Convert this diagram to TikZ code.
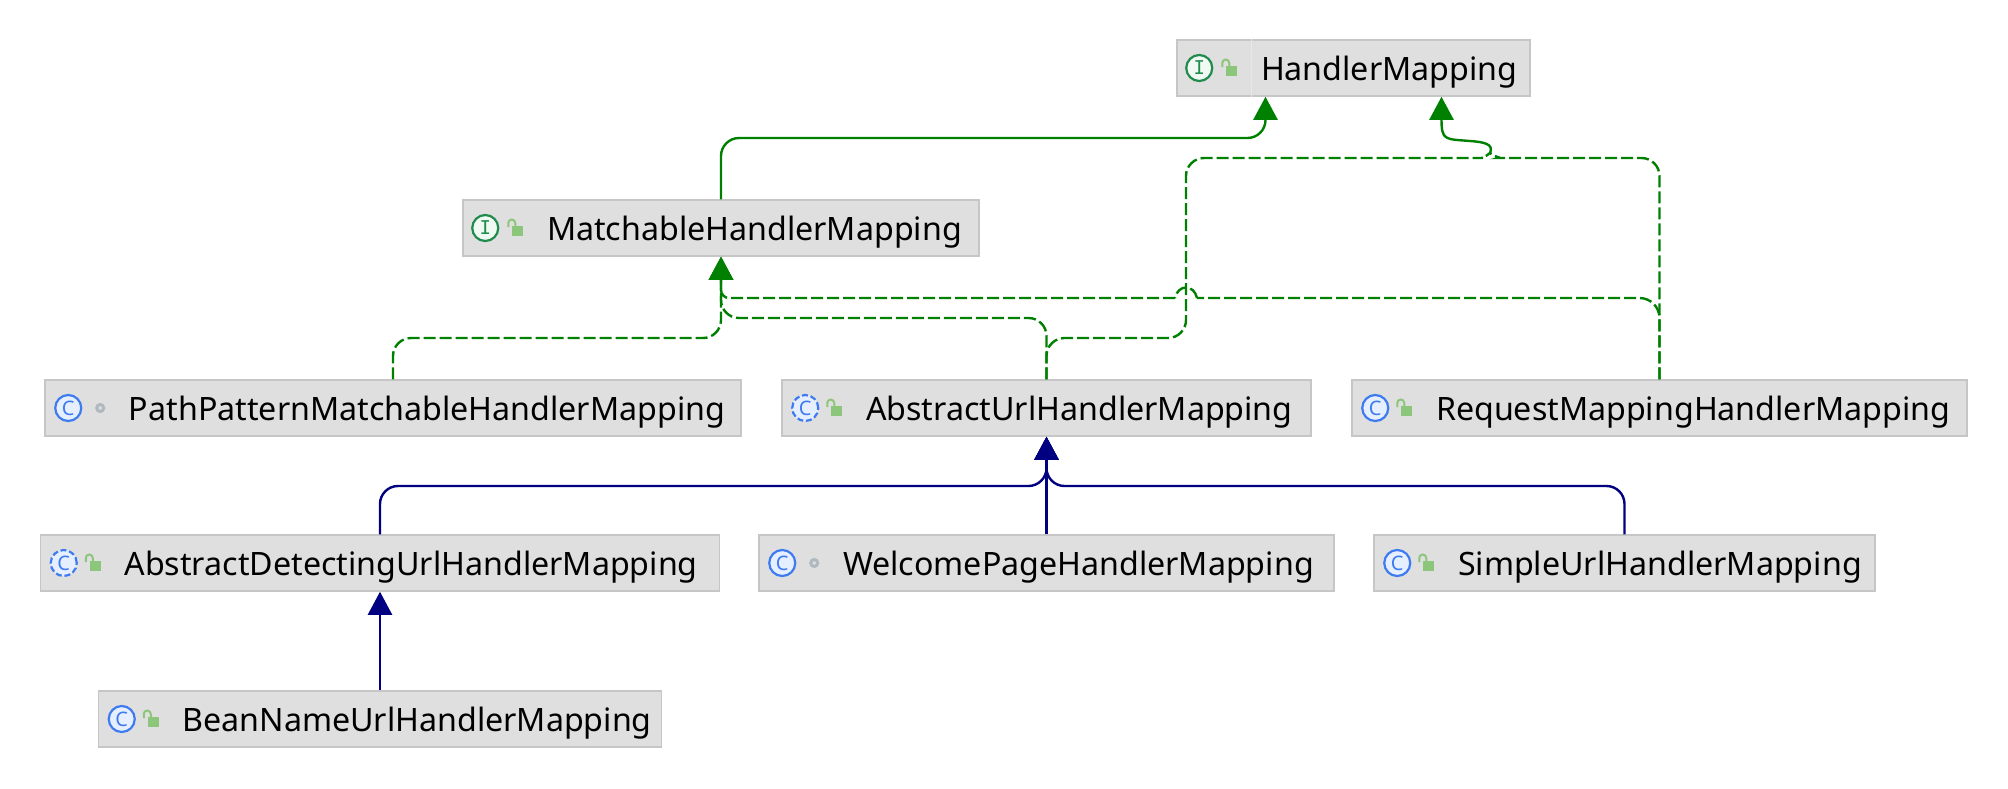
\documentclass[tikz,border=0pt]{standalone}
\usepackage{fontspec}
\setmainfont{Noto Sans}
\newfontfamily\monoicon{DejaVu Sans Mono}
\usetikzlibrary{arrows.meta}
\hyphenpenalty=10000
\definecolor{boxfill}{HTML}{DFDFDF}
\definecolor{boxline}{HTML}{C6C6C6}
\definecolor{implgreen}{HTML}{008000}
\definecolor{extblue}{HTML}{000080}
\definecolor{clsblue}{HTML}{3F7BF0}
\definecolor{clsfill}{HTML}{E6EFFF}
\definecolor{ifgreen}{HTML}{1F8B4C}
\definecolor{iffill}{HTML}{F0FAF3}
\definecolor{lockgreen}{HTML}{8CC67A}
\definecolor{dotgray}{HTML}{AEB9C0}
\tikzset{
cls/.style={draw=boxline, fill=boxfill, line width=0.75pt, minimum height=28pt, text width=#1, align=left,
  inner ysep=0pt, inner xsep=0pt, text height=12pt, text depth=0pt, font=\fontsize{16.1}{18}\selectfont,
  execute at begin node={\hspace*{42pt}}}, % box of one class
conn/.style={rounded corners=9pt, line width=1.2pt, -{Triangle[width=12pt,length=11.5pt]}},
impl/.style={conn, draw=implgreen, fill=none, -{Triangle[width=12pt,length=11.5pt,fill=implgreen]}},
dep/.style={impl, dash pattern=on 6pt off 2pt},
ext/.style={conn, draw=extblue},
cicon/.style={circle, draw=clsblue, fill=clsfill, line width=1.1pt, minimum size=13pt, inner sep=0pt, text=clsblue, font=\fontsize{10}{10}\selectfont},
aicon/.style={cicon, dash pattern=on 3pt off 1.4pt},
iicon/.style={circle, draw=ifgreen, fill=iffill, line width=1.1pt, minimum size=13pt, inner sep=0pt, text=ifgreen, font=\monoicon\fontsize{9.5}{10}\selectfont},
dotn/.style={circle, draw=dotgray, line width=1.5pt, minimum size=3.5pt, inner sep=0pt},
pics/openlock/.style={code={
  \fill[lockgreen] (5,-2) rectangle (16,8);
  \draw[lockgreen, line width=1pt] (1,-1) -- (1,-5) arc[start angle=180, end angle=0, radius=1.75pt] -- (8,-2);
}},
}
\begin{document}
\begin{tikzpicture}[x=0.5pt, y=-0.5pt]
    \useasboundingbox (0,0) rectangle (2008,788);
    % classes
    \node[cls=176.5pt] (handler) at (1353.5,68) {HandlerMapping};
    \node[cls=258pt] (match) at (721,228) {MatchableHandlerMapping};
    \node[cls=348pt] (pathpat) at (393,408) {PathPatternMatchableHandlerMapping};
    \node[cls=264.5pt] (absurl) at (1046.5,408) {AbstractUrlHandlerMapping};
    \node[cls=307.5pt] (request) at (1659.5,408) {RequestMappingHandlerMapping};
    \node[cls=339.5pt] (detect) at (380,563) {AbstractDetectingUrlHandlerMapping};
    \node[cls=287.5pt] (welcome) at (1046.5,563) {WelcomePageHandlerMapping};
    \node[cls=250.5pt] (simple) at (1624.5,563) {SimpleUrlHandlerMapping};
    \node[cls=281.5pt] (bean) at (380,719) {BeanNameUrlHandlerMapping};
    \draw[white!25!boxfill, line width=0.75pt] ([xshift=37.5pt]handler.north west) -- ([xshift=37.5pt]handler.south west);
    % icons
    \node[iicon] (handleri) at ([xshift=11.5pt]handler.west) {I};
    \node[iicon] (matchi) at ([xshift=11.5pt]match.west) {I};
    \node[cicon] (pathpati) at ([xshift=12pt]pathpat.west) {C};
    \node[aicon] (absurli) at ([xshift=12pt]absurl.west) {C};
    \node[cicon] (requesti) at ([xshift=12pt]request.west) {C};
    \node[aicon] (detecti) at ([xshift=12pt]detect.west) {C};
    \node[cicon] (welcomei) at ([xshift=12pt]welcome.west) {C};
    \node[cicon] (simplei) at ([xshift=12pt]simple.west) {C};
    \node[cicon] (beani) at ([xshift=12pt]bean.west) {C};
    \pic at ([xshift=22.5pt]handler.west) {openlock};
    \pic at ([xshift=22.5pt]match.west) {openlock};
    \pic at ([xshift=22.5pt]absurl.west) {openlock};
    \pic at ([xshift=22.5pt]request.west) {openlock};
    \pic at ([xshift=22.5pt]detect.west) {openlock};
    \pic at ([xshift=22.5pt]simple.west) {openlock};
    \pic at ([xshift=22.5pt]bean.west) {openlock};
    \node[dotn] (pathpatd) at ([xshift=28pt]pathpat.west) {};
    \node[dotn] (welcomed) at ([xshift=28pt]welcome.west) {};
    % helper points
    \coordinate (hleft) at ([xshift=-44pt]handler.south);
    \coordinate (hright) at ([xshift=44pt]handler.south);
    \coordinate (fork) at (1490,153);
    \coordinate (forkb) at (1470,141);
    \coordinate (rowa) at (0,138);
    \coordinate (rowc) at (0,298);
    \coordinate (rowd) at (0,318);
    \coordinate (rowe) at (0,338);
    \coordinate (rowf) at (0,486);
    \coordinate (cross) at (1186,0);
    \coordinate (bumpr) at (1197,298);
    \coordinate (bumpl) at (1175,298);
    \coordinate (forkl) at (1465,158);
    \coordinate (forkr) at (1517,158);
    % implements
    \draw[impl] (match.north) |- (rowa -| hleft) -- (hleft);
    \draw[impl, rounded corners=0pt] (fork) .. controls +(4,-9) and +(14,1) .. (forkb) .. controls +(-25,-2) and +(0,44) .. (hright);
    \draw[dep, -] (absurl.north) |- (rowe -| cross) |- (forkl) .. controls +(14,0) and +(-4,4) .. (fork);
    \draw[dep, -] (request.north) |- (forkr) .. controls +(-14,0) and +(4,4) .. (fork);
    \draw[dep] (pathpat.north) |- (rowe -| match) -- (match.south);
    \draw[dep] (absurl.north) |- (rowd -| match) -- (match.south);
    \draw[dep, -, rounded corners=10pt] (request.north) |- (bumpr);
    \draw[dep, -, sharp corners] (bumpr) .. controls +(-3,-14) and +(3,-14) .. (bumpl);
    \draw[dep, rounded corners=4pt] (bumpl) -- (rowc -| match) -- (match.south);
    % extends
    \draw[ext] (detect.north) |- (rowf -| absurl) -- (absurl.south);
    \draw[ext] (simple.north) |- (rowf -| absurl) -- (absurl.south);
    \draw[ext] (welcome.north) -- (absurl.south);
    \draw[ext] (bean.north) -- (detect.south);
\end{tikzpicture}
\end{document}
